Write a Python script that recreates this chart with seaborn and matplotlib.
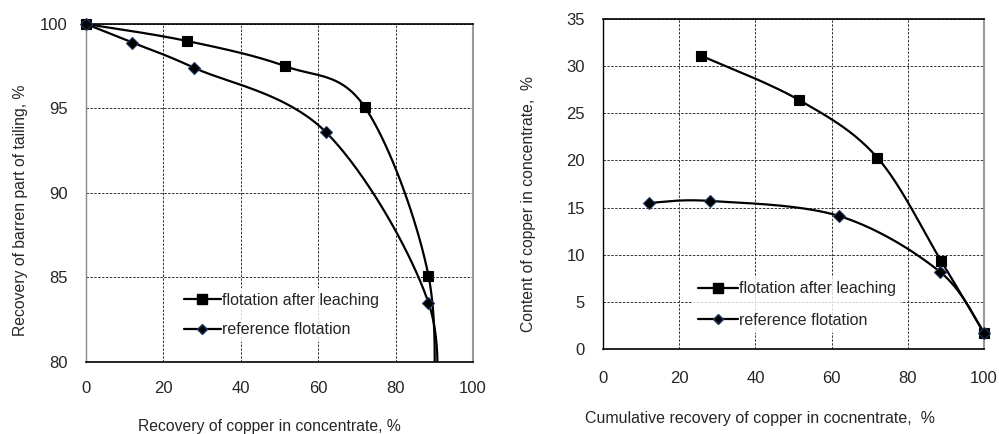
import numpy as np
import pandas as pd
import matplotlib.pyplot as plt
import seaborn as sns
from matplotlib.lines import Line2D

# left panel: recovery of copper vs recovery of barren part of tailing
left_after_x = [0, 26, 51.5, 72, 88.5, 89.6]
left_after_y = [100, 99.0, 97.5, 95.1, 85.1, 75]     # last point lies below the visible range
left_ref_x = [0, 12, 28, 62, 88.5, 89.6]
left_ref_y = [100, 98.9, 97.4, 93.6, 83.5, 75]

# right panel: cumulative recovery vs copper content in concentrate
right_after_x = [25.8, 51.5, 72, 88.8, 100]
right_after_y = [31.1, 26.4, 20.3, 9.3, 1.7]
right_ref_x = [12.2, 28.2, 62, 88.4, 100]
right_ref_y = [15.5, 15.7, 14.1, 8.2, 1.7]

series_names = ['flotation after leaching', 'reference flotation']


def smooth(xs, ys, sx, sy, n=40):
    # Catmull-Rom curve through the points, computed in scaled (screen-like) units
    p = np.column_stack([np.asarray(xs, float) * sx, np.asarray(ys, float) * sy])
    out = []
    for i in range(len(p) - 1):
        p0 = p[i - 1] if i > 0 else p[i]
        p3 = p[i + 2] if i + 2 < len(p) else p[i + 1]
        p1, p2 = p[i], p[i + 1]
        m1 = (p2 - p0) / 2
        m2 = (p3 - p1) / 2
        t = np.linspace(0, 1, n)[:, None]
        h00 = 2 * t**3 - 3 * t**2 + 1
        h10 = t**3 - 2 * t**2 + t
        h01 = -2 * t**3 + 3 * t**2
        h11 = t**3 - t**2
        out.append(h00 * p1 + h10 * m1 + h01 * p2 + h11 * m2)
    c = np.vstack(out)
    return pd.DataFrame({'x': c[:, 0] / sx, 'y': c[:, 1] / sy})


sns.set_style('white')
plt.rcParams['font.family'] = ['Liberation Sans', 'DejaVu Sans']

fig = plt.figure(figsize=(9.99, 4.34), dpi=100)
ax1 = fig.add_axes([86 / 999, 1 - 362 / 434, 387 / 999, 338 / 434])
ax2 = fig.add_axes([603 / 999, 1 - 349 / 434, 381 / 999, 330 / 434])

panels = [
    (ax1, left_after_x, left_after_y, left_ref_x, left_ref_y, (80, 100), 5, 387, 338,
     'Recovery of copper in concentrate, %', 'Recovery of barren part of tailing, %'),
    (ax2, right_after_x, right_after_y, right_ref_x, right_ref_y, (0, 35), 5, 381, 330,
     'Cumulative recovery of copper in cocnentrate,  %', 'Content of copper in concentrate,  %'),
]

for ax, ax_x, ax_y, rx, ry, ylim, ystep, w, h, xlabel, ylabel in panels:
    sx = w / 100
    sy = h / (ylim[1] - ylim[0])
    for xs, ys, mk, ms in [(ax_x, ax_y, 's', 7), (rx, ry, 'D', 6.5)]:
        curve = smooth(xs, ys, sx, sy)
        sns.lineplot(data=curve, x='x', y='y', ax=ax, color='black', lw=1.6,
                     sort=False, estimator=None, zorder=3)
        pts = pd.DataFrame({'x': xs, 'y': ys})
        pts = pts[pts['y'] >= ylim[0]]
        ax.plot(pts['x'], pts['y'], ls='none', marker=mk, ms=ms, color='black',
                mec='#1f3864' if mk == 'D' else 'black', mew=0.8, zorder=4, clip_on=False)

    ax.set_xlim(0, 100)
    ax.set_ylim(*ylim)
    ax.set_xticks(np.arange(0, 101, 20))
    ax.set_yticks(np.arange(ylim[0], ylim[1] + 1, ystep))
    ax.grid(True, color='#333333', ls=(0, (2.5, 1.5)), lw=0.7)
    ax.tick_params(axis='both', labelsize=12, direction='out', length=4, width=0.8,
                   color='black', pad=9)
    for side in ['top', 'bottom']:
        ax.spines[side].set_color('black')
        ax.spines[side].set_linewidth(1.2)
    ax.spines['right'].set_color('#999999')
    ax.spines['right'].set_linewidth(1.5)
    ax.spines['left'].set_color('#888888' if ax is ax1 else 'black')
    ax.spines['left'].set_linewidth(1.0)
    ax.set_axisbelow(True)

ax1.tick_params(axis='x', pad=10)
ax2.tick_params(axis='x', pad=12)
ax1.set_xlabel(panels[0][9], fontsize=11.3, labelpad=16)
ax1.set_ylabel(panels[0][10], fontsize=11.3, labelpad=9)
ax2.set_xlabel(panels[1][9], fontsize=11.5, labelpad=18)
ax2.set_ylabel(panels[1][10], fontsize=11.3, labelpad=22)
ax1.xaxis.label.set_x(0.473)
ax1.yaxis.label.set_y(0.45)
ax2.xaxis.label.set_x(0.412)
ax2.yaxis.label.set_y(0.44)

handles = [
    Line2D([], [], color='black', lw=1.6, marker='s', ms=7),
    Line2D([], [], color='black', lw=1.6, marker='D', ms=5, mec='#1f3864'),
]
ax1.legend(handles, series_names, loc='lower left', bbox_to_anchor=(0.22, 0.035),
           frameon=True, facecolor='white', edgecolor='none', fancybox=False,
           fontsize=11.5, handlelength=2.3, handletextpad=0.1, labelspacing=0.9,
           borderpad=0.3)
ax2.legend(handles, series_names, loc='lower left', bbox_to_anchor=(0.215, 0.025),
           frameon=True, facecolor='white', edgecolor='none', fancybox=False,
           fontsize=11.5, handlelength=2.5, handletextpad=0.1, labelspacing=1.05,
           borderpad=0.3)

fig.savefig('out.png', dpi=100)
